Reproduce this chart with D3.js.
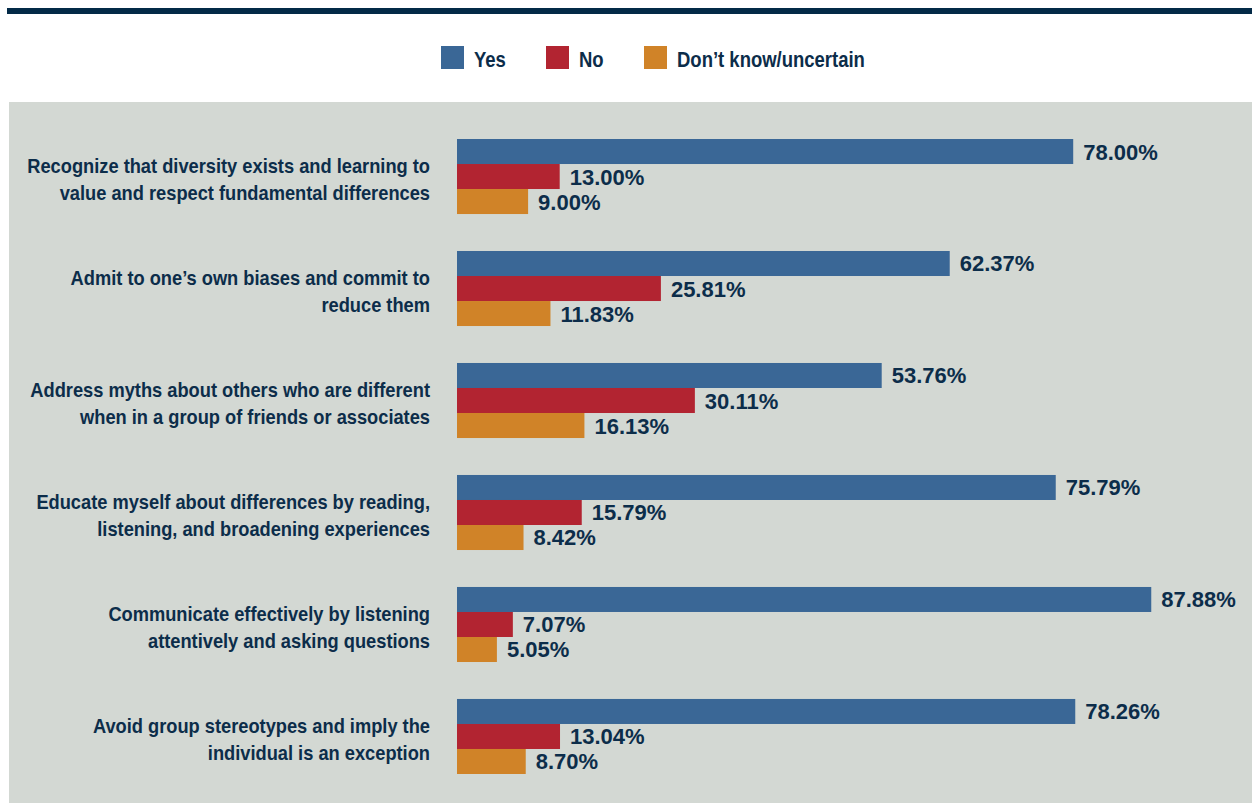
<!DOCTYPE html>
<html>
<head>
<meta charset="utf-8">
<script src="https://cdnjs.cloudflare.com/ajax/libs/d3/7.8.5/d3.min.js"></script>
<style>
  body { margin: 0; background: #fff; }
  svg { display: block; }
</style>
</head>
<body>
<div id="chart"></div>
<script>
// values
let categories = [
  ["Recognize that diversity exists and learning to", "value and respect fundamental differences"],
  ["Admit to one\u2019s own biases and commit to", "reduce them"],
  ["Address myths about others who are different", "when in a group of friends or associates"],
  ["Educate myself about differences by reading,", "listening, and broadening experiences"],
  ["Communicate effectively by listening", "attentively and asking questions"],
  ["Avoid group stereotypes and imply the", "individual is an exception"]
];
let series = ["Yes", "No", "Don\u2019t know/uncertain"];
let yesValues = [78.00, 62.37, 53.76, 75.79, 87.88, 78.26];
let noValues = [13.00, 25.81, 30.11, 15.79, 7.07, 13.04];
let dkValues = [9.00, 11.83, 16.13, 8.42, 5.05, 8.70];

let colors = ["#3a6796", "#b22431", "#d08328"];
let textColor = "#0c2d4a";
let sans = "'Liberation Sans', Arial, Helvetica, sans-serif";

let width = 1252, height = 803;

let svg = d3.select("#chart").append("svg")
    .attr("width", width)
    .attr("height", height);

// top rule
svg.append("rect")
    .attr("x", 7).attr("y", 8)
    .attr("width", width - 7).attr("height", 6)
    .attr("fill", "#032a47");

// grey panel
svg.append("rect")
    .attr("x", 9).attr("y", 102)
    .attr("width", width - 9).attr("height", height - 102)
    .attr("fill", "#d3d8d3");

// legend (condensed look: bold sans squeezed horizontally)
let legendX = [441, 546, 644];
let legend = svg.selectAll(".legend")
    .data(series)
    .enter().append("g")
    .attr("class", "legend")
    .attr("transform", (d, i) => "translate(" + legendX[i] + ",46)");

legend.append("rect")
    .attr("width", 23).attr("height", 23)
    .attr("fill", (d, i) => colors[i]);

let legendText = legend.append("g")
    .attr("transform", "translate(33,0)")
  .append("text")
    .attr("y", 21)
    .style("font-family", sans)
    .style("font-weight", "bold")
    .style("font-size", "22px")
    .attr("fill", textColor)
    .text(d => d);

let lw = legendText.nodes()[2].getComputedTextLength();
let lf = 188 / lw;
legendText.attr("transform", "scale(" + lf + ",1)");

// scales
let x = d3.scaleLinear()
    .domain([0, 100])
    .range([457, 1247]);

let idx = d3.range(categories.length);

let y0 = d3.scaleBand()
    .domain(idx)
    .range([139, 774])
    .paddingInner(0.33)
    .paddingOuter(0);

let y1 = d3.scaleBand()
    .domain(series)
    .range([0, y0.bandwidth()]);

let rows = idx.map(i => ({
  label: categories[i],
  values: [yesValues[i], noValues[i], dkValues[i]]
}));

let group = svg.selectAll(".group")
    .data(rows)
    .enter().append("g")
    .attr("class", "group")
    .attr("transform", (d, i) => "translate(0," + y0(i) + ")");

// category labels
let mid = y0.bandwidth() / 2;
let catText = group.append("g")
    .attr("transform", "translate(430,0)")
  .append("text")
    .attr("text-anchor", "end")
    .style("font-family", sans)
    .style("font-weight", "bold")
    .style("font-size", "20px")
    .attr("fill", textColor);

catText.selectAll("tspan")
    .data(d => d.label)
    .enter().append("tspan")
    .attr("x", 0)
    .attr("y", (d, j) => mid - 3.5 + j * 27)
    .text(d => d);

let firstLine = catText.nodes()[0].querySelector("tspan").getComputedTextLength();
let cf = 403 / firstLine;
catText.attr("transform", "scale(" + cf + ",1)");

// bars
let bars = group.selectAll(".bar")
    .data(d => d.values.map((v, j) => ({ s: series[j], v: v, j: j })))
    .enter();

bars.append("rect")
    .attr("x", x(0))
    .attr("y", d => y1(d.s))
    .attr("width", d => x(d.v) - x(0))
    .attr("height", y1.bandwidth())
    .attr("fill", d => colors[d.j]);

bars.append("text")
    .attr("x", d => x(d.v) + 10)
    .attr("y", d => y1(d.s) + y1.bandwidth() / 2 + 8)
    .style("font-family", sans)
    .style("font-weight", "bold")
    .style("font-size", "22px")
    .attr("fill", textColor)
    .text(d => d.v.toFixed(2) + "%");
</script>
</body>
</html>
